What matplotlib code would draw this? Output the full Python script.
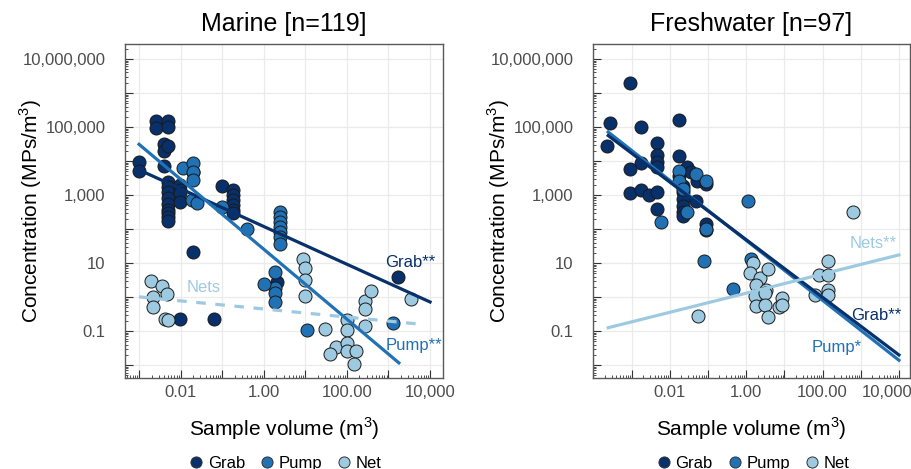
import numpy as np
import matplotlib
matplotlib.use('Agg')
import matplotlib.pyplot as plt
from matplotlib.ticker import LogLocator, FuncFormatter, NullFormatter
from matplotlib.lines import Line2D
from matplotlib.transforms import ScaledTranslation

plt.rcParams['font.family'] = ['Liberation Sans', 'DejaVu Sans']

# --- data (sample volume m3, concentration MPs/m3) ---
marine_grab_x = [0.0025, 0.0025, 0.0049, 0.0049, 0.0039, 0.0039, 0.0039, 0.0049, 0.001, 0.001,
                 0.0049, 0.0049, 0.0049, 0.0049, 0.0049, 0.0049, 0.0049, 0.0049, 0.0049,
                 0.0098, 0.0098, 0.0098, 0.0098, 0.0195, 0.1,
                 0.186, 0.186, 0.186, 0.186, 0.186, 0.186,
                 0.0204, 0.0098, 0.062, 1660, 2.1]
marine_grab_y = [155000, 91000, 155000, 102000, 31000, 19500, 7100, 27500, 9100, 5100,
                 2450, 1740, 1200, 795, 550, 363, 288, 219, 174,
                 1950, 1410, 1120, 630, 4900, 1900,
                 1410, 1000, 710, 513, 363, 288,
                 21, 0.23, 0.23, 3.8, 2.8]
marine_pump_x = [0.0112, 0.0195, 0.0195, 0.0195, 0.0186, 0.0245, 0.1, 0.40,
                 2.5, 2.5, 2.5, 2.5, 2.5, 2.5, 2.5,
                 1.9, 1.9, 1.9, 1.9, 1.0, 11, 1290]
marine_pump_y = [6300, 8900, 4900, 2750, 710, 575, 457, 102,
                 324, 229, 162, 117, 83, 59, 36,
                 5.5, 1.8, 1.3, 0.72, 2.5, 0.107, 0.174]
marine_net_x = [0.00195, 0.0035, 0.0047, 0.0022, 0.0022, 0.0043, 0.0051,
                8.7, 10, 10, 10, 30, 100, 98, 56, 39, 98, 98, 170, 145,
                280, 280, 370, 270, 3550]
marine_net_y = [3.0, 2.1, 1.23, 1.02, 0.50, 0.23, 0.22,
                13.2, 7.4, 3.2, 1.1, 0.115, 0.21, 0.107, 0.035, 0.021, 0.046, 0.026, 0.026, 0.011,
                0.78, 0.44, 1.5, 0.145, 0.91]

fresh_grab_x = [0.00093, 0.00028, 0.00023, 0.0018, 0.0047, 0.0047, 0.0047, 0.0047, 0.0018, 0.00093,
                0.00093, 0.0018, 0.0028, 0.0047, 0.0047, 0.018, 0.018, 0.0275, 0.037, 0.052,
                0.091, 0.0224, 0.0224, 0.0224, 0.0224, 0.0224, 0.0224, 0.05, 0.091, 0.018, 0.091]
fresh_grab_y = [2.0e6, 135000, 27500, 100000, 35000, 14800, 9500, 6500, 8500, 5800,
                1150, 1450, 980, 1260, 400, 166000, 14100, 6900, 4700, 2600,
                2140, 1900, 1200, 780, 490, 316, 250, 690, 145, 3700, 93]
fresh_pump_x = [0.018, 0.018, 0.0224, 0.048, 0.091, 0.029, 0.0059, 0.091, 1.12, 0.078, 0.44, 1.38]
fresh_pump_y = [5100, 2600, 1500, 4200, 2600, 316, 162, 100, 650, 11.5, 1.74, 13.2]
fresh_net_x = [620, 0.055, 1.5, 1.26, 2.3, 3.8, 1.86, 3.4, 1.7, 3.1, 1.78, 3.1, 3.8,
               8.5, 7.2, 8.5, 63, 81, 141, 141, 141, 141]
fresh_net_y = [316, 0.275, 9.8, 5.0, 3.6, 6.8, 2.3, 1.66, 1.05, 1.32, 0.54, 0.60, 0.26,
               0.93, 0.50, 0.58, 1.17, 4.5, 11.5, 4.5, 1.66, 1.17]

# fitted lines (end points)
marine_fit_x = {'Grab': [0.001, 10000], 'Pump': [0.001, 1780], 'Net': [0.001, 6500]}
marine_fit_y = {'Grab': [5500, 0.72], 'Pump': [31000, 0.0117], 'Net': [1.02, 0.158]}
fresh_fit_x = {'Grab': [0.000245, 10000], 'Pump': [0.000245, 10000], 'Net': [0.000245, 10000]}
fresh_fit_y = {'Grab': [56000, 0.020], 'Pump': [71000, 0.014], 'Net': [0.126, 17.4]}

colors = {'Grab': '#08306B', 'Pump': '#2171B5', 'Net': '#9ECAE1'}

y_labels = {7: '10,000,000', 5: '100,000', 3: '1,000', 1: '10', -1: '0.1'}
x_labels = {-2: '0.01', 0: '1.00', 2: '100.00', 4: '10,000'}


def style_axes(ax, xlim):
    ax.set_xscale('log')
    ax.set_yscale('log')
    ax.set_xlim(*xlim)
    ax.set_ylim(0.0042, 2.75e7)
    for a in (ax.xaxis, ax.yaxis):
        a.set_major_locator(LogLocator(base=10, numticks=30))
        a.set_minor_locator(LogLocator(base=10, subs=np.arange(2, 10), numticks=30))
        a.set_minor_formatter(NullFormatter())
    ax.yaxis.set_major_formatter(FuncFormatter(
        lambda v, p: y_labels.get(int(round(np.log10(v))), '')))
    ax.xaxis.set_major_formatter(FuncFormatter(
        lambda v, p: x_labels.get(int(round(np.log10(v))), '')))
    ax.tick_params(which='major', direction='in', length=6, width=0.8, color='#333333',
                   labelsize=12, labelcolor='#4D4D4D')
    ax.tick_params(which='minor', direction='in', length=2.5, width=0.6, color='#333333')
    ax.tick_params(axis='y', which='major', pad=14)
    ax.tick_params(axis='x', which='major', pad=5)
    ax.grid(True, which='major', color='#EBEBEB', linewidth=0.9)
    ax.set_axisbelow(True)
    for s in ax.spines.values():
        s.set_color('#595959')
        s.set_linewidth(1.0)
    ax.set_xlabel('Sample volume (m$^\\mathregular{3}$)', fontsize=15, labelpad=11)
    ax.set_ylabel('Concentration (MPs/m$^\\mathregular{3}$)', fontsize=15)
    ax.yaxis.set_label_coords(-0.255, 0.5)


def draw_points(ax, xs, ys, kind):
    ax.scatter(xs, ys, s=88, color=colors[kind], edgecolor='#1A1A1A', linewidth=0.7, zorder=3)


def add_legend(ax):
    handles = [Line2D([], [], marker='o', linestyle='', markersize=8,
                      markerfacecolor=colors[k], markeredgecolor='#333333', markeredgewidth=0.7)
               for k in ('Grab', 'Pump', 'Net')]
    ax.legend(handles, ['Grab', 'Pump', 'Net'], loc='center', bbox_to_anchor=(0.5, -0.255),
              ncol=3, frameon=False, fontsize=12, handletextpad=0.1, columnspacing=0.7,
              handlelength=1.2)


fig = plt.figure(figsize=(9.12, 4.69), dpi=100)
ax1 = fig.add_axes([125 / 912, 1 - 378 / 469, 318 / 912, 334 / 469])
ax2 = fig.add_axes([593 / 912, 1 - 378 / 469, 317 / 912, 334 / 469])

# --- Marine ---
style_axes(ax1, (4.6e-4, 2.05e4))
draw_points(ax1, marine_grab_x, marine_grab_y, 'Grab')
draw_points(ax1, marine_pump_x, marine_pump_y, 'Pump')
draw_points(ax1, marine_net_x, marine_net_y, 'Net')
ax1.plot(marine_fit_x['Grab'], marine_fit_y['Grab'], color=colors['Grab'], lw=2.3, zorder=4)
ax1.plot(marine_fit_x['Pump'], marine_fit_y['Pump'], color=colors['Pump'], lw=2.3, zorder=4)
ax1.plot(marine_fit_x['Net'], marine_fit_y['Net'], color=colors['Net'], lw=2.3, zorder=4,
         dashes=(3, 3))
ax1.text(3400, 10.7, 'Grab**', color=colors['Grab'], fontsize=12, ha='center', va='center', zorder=5)
ax1.text(4000, 0.039, 'Pump**', color=colors['Pump'], fontsize=12, ha='center', va='center', zorder=5)
ax1.text(0.035, 1.95, 'Nets', color=colors['Net'], fontsize=12, ha='center', va='center', zorder=5)
ax1.set_title('Marine [n=119]', fontsize=18, pad=9)
add_legend(ax1)

# --- Freshwater ---
style_axes(ax2, (9.8e-5, 1.95e4))
draw_points(ax2, fresh_grab_x, fresh_grab_y, 'Grab')
draw_points(ax2, fresh_pump_x, fresh_pump_y, 'Pump')
draw_points(ax2, fresh_net_x, fresh_net_y, 'Net')
ax2.plot(fresh_fit_x['Pump'], fresh_fit_y['Pump'], color=colors['Pump'], lw=2.3, zorder=4)
ax2.plot(fresh_fit_x['Grab'], fresh_fit_y['Grab'], color=colors['Grab'], lw=2.3, zorder=4)
ax2.plot(fresh_fit_x['Net'], fresh_fit_y['Net'], color=colors['Net'], lw=2.3, zorder=4)
ax2.text(2100, 38, 'Nets**', color=colors['Net'], fontsize=12, ha='center', va='center', zorder=5)
ax2.text(2600, 0.295, 'Grab**', color=colors['Grab'], fontsize=12, ha='center', va='center', zorder=5)
ax2.text(235, 0.033, 'Pump*', color=colors['Pump'], fontsize=12, ha='center', va='center', zorder=5)
ax2.set_title('Freshwater [n=97]', fontsize=18, pad=9)
add_legend(ax2)

# keep the last x tick label of the right panel inside the figure
fig.canvas.draw()
for lab in ax2.get_xticklabels():
    if lab.get_text() == '10,000':
        lab.set_transform(lab.get_transform() + ScaledTranslation(-0.12, 0, fig.dpi_scale_trans))

fig.savefig('out.png', dpi=100)
